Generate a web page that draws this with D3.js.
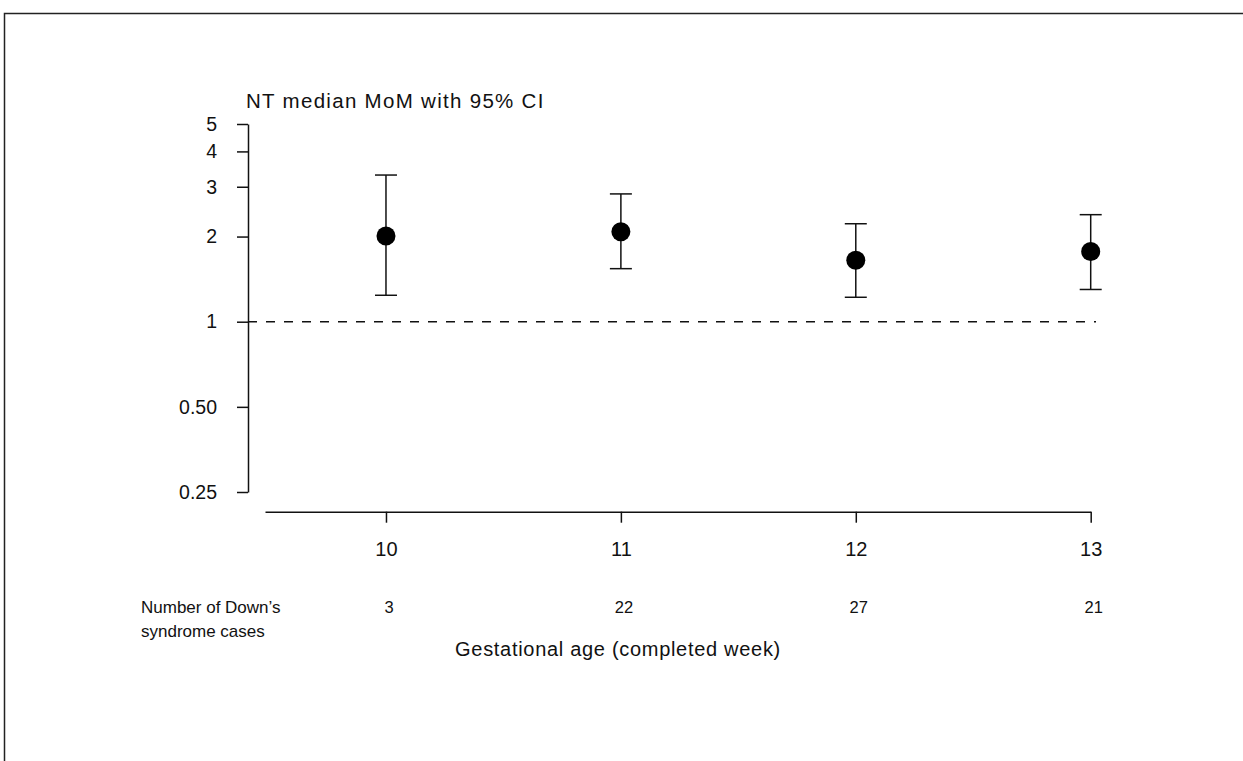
<!DOCTYPE html>
<html>
<head>
<meta charset="utf-8">
<script src="https://cdn.jsdelivr.net/npm/d3@7/dist/d3.min.js"></script>
<style>
  html, body { margin: 0; padding: 0; background: #fff; }
  svg { display: block; }
  text { font-family: "Liberation Sans", Arial, sans-serif; fill: #111; }
</style>
</head>
<body>
<script>
// ---- data ----
const weeks = [10, 11, 12, 13];
const medianMoM = [2.01, 2.08, 1.65, 1.77];
const ciLower = [1.24, 1.54, 1.22, 1.30];
const ciUpper = [3.30, 2.83, 2.22, 2.39];
const cases = [3, 22, 27, 21];
const yTicks = [0.25, 0.5, 1, 2, 3, 4, 5];
const yTickLabels = ["0.25", "0.50", "1", "2", "3", "4", "5"];
const titleText = "NT median MoM with 95% CI";
const xLabelText = "Gestational age (completed week)";
const casesLabel = ["Number of Down\u2019s", "syndrome cases"];

const W = 1243, H = 761;
const svg = d3.select("body").append("svg").attr("width", W).attr("height", H);

// frame
svg.append("path")
  .attr("d", `M4.5,${H} V13.5 H${W}`)
  .attr("fill", "none").attr("stroke", "#222").attr("stroke-width", 1.5);

const x = d3.scaleLinear().domain([9.485, 13]).range([265, 1090.7]);
const y = d3.scaleLog().domain([0.25, 5]).range([492, 124]);

// y axis
const yAxis = d3.axisLeft(y)
  .tickValues(yTicks)
  .tickFormat((d, i) => yTickLabels[i])
  .tickSize(11).tickSizeOuter(0).tickPadding(20);
const gy = svg.append("g").attr("transform", "translate(248,0)").call(yAxis);
gy.selectAll("path, line").attr("stroke", "#111").attr("stroke-width", 1.5);
gy.selectAll("text").style("font-size", "19.5px").attr("fill", "#111")
  .style("font-family", '"Liberation Sans", Arial, sans-serif');

// x axis
const xAxis = d3.axisBottom(x)
  .tickValues(weeks)
  .tickFormat(d3.format("d"))
  .tickSize(11).tickSizeOuter(0).tickPadding(19.5);
const gx = svg.append("g").attr("transform", "translate(0,511.7)").call(xAxis);
gx.selectAll("path, line").attr("stroke", "#111").attr("stroke-width", 1.5);
gx.selectAll("text").style("font-size", "20px").attr("fill", "#111")
  .style("font-family", '"Liberation Sans", Arial, sans-serif');

// reference line at 1
svg.append("line")
  .attr("x1", 248).attr("x2", 1096)
  .attr("y1", y(1)).attr("y2", y(1))
  .attr("stroke", "#111").attr("stroke-width", 1.5)
  .attr("stroke-dasharray", "9,9");

// error bars
const data = weeks.map((w, i) => ({ w, m: medianMoM[i], lo: ciLower[i], hi: ciUpper[i], n: cases[i] }));
const g = svg.append("g");
g.selectAll(".stem").data(data).join("line")
  .attr("x1", d => x(d.w)).attr("x2", d => x(d.w))
  .attr("y1", d => y(d.lo)).attr("y2", d => y(d.hi))
  .attr("stroke", "#111").attr("stroke-width", 1.5);
g.selectAll(".capHi").data(data).join("line")
  .attr("x1", d => x(d.w) - 11).attr("x2", d => x(d.w) + 11)
  .attr("y1", d => y(d.hi)).attr("y2", d => y(d.hi))
  .attr("stroke", "#111").attr("stroke-width", 1.5);
g.selectAll(".capLo").data(data).join("line")
  .attr("x1", d => x(d.w) - 11).attr("x2", d => x(d.w) + 11)
  .attr("y1", d => y(d.lo)).attr("y2", d => y(d.lo))
  .attr("stroke", "#111").attr("stroke-width", 1.5);
g.selectAll(".dot").data(data).join("circle")
  .attr("cx", d => x(d.w)).attr("cy", d => y(d.m)).attr("r", 9.5)
  .attr("fill", "#000");

// title
svg.append("text").attr("x", 246).attr("y", 107.5)
  .style("font-size", "20.5px").style("letter-spacing", "1.3px")
  .text(titleText);

// cases row
svg.append("text").attr("x", 141).attr("y", 613)
  .style("font-size", "17px")
  .selectAll("tspan").data(casesLabel).join("tspan")
  .attr("x", 141).attr("dy", (d, i) => i === 0 ? 0 : 23.5)
  .text(d => d);
svg.selectAll(".cnt").data(data).join("text")
  .attr("x", d => x(d.w) + 3).attr("y", 613)
  .attr("text-anchor", "middle")
  .style("font-size", "16.5px")
  .text(d => d.n);

// x label
svg.append("text").attr("x", 618).attr("y", 656)
  .attr("text-anchor", "middle")
  .style("font-size", "20px").style("letter-spacing", "0.7px")
  .text(xLabelText);
</script>
</body>
</html>
